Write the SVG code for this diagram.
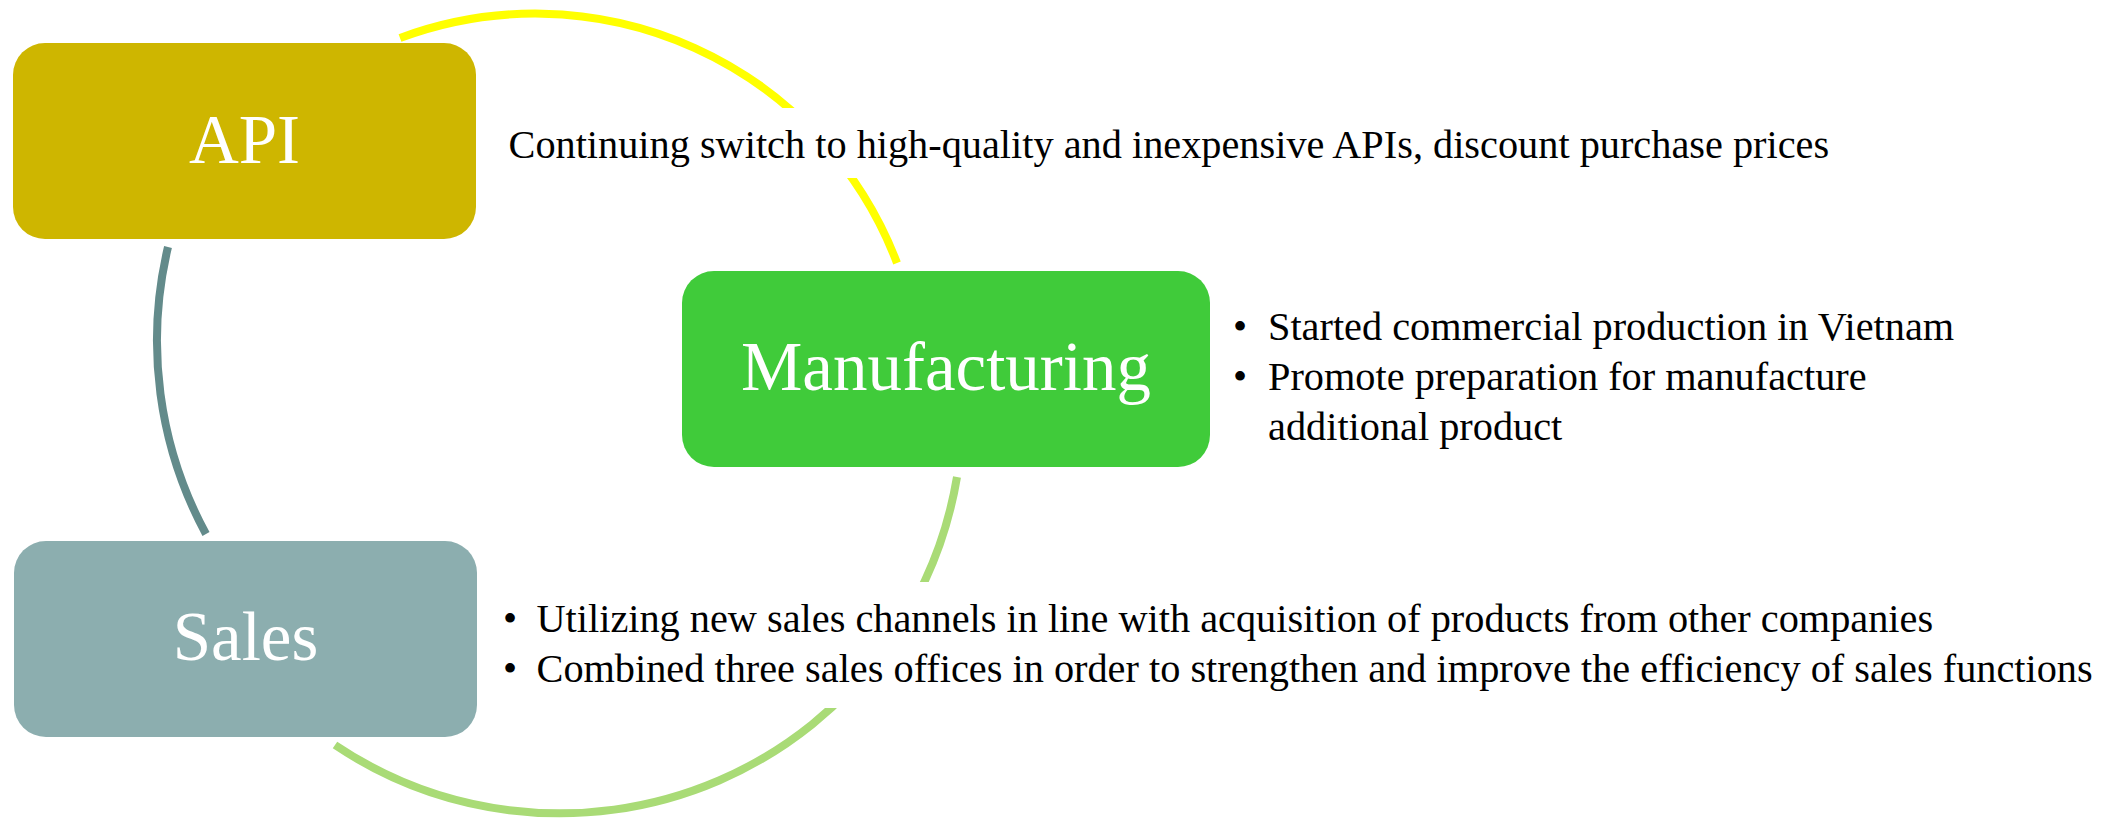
<svg xmlns="http://www.w3.org/2000/svg" width="2116" height="819" viewBox="0 0 2116 819">
  <style>
    .box-label { font-family: "Liberation Serif", "Times New Roman", serif; font-size: 69px; fill: #FFFFFF; text-anchor: middle; }
    .desc { font-family: "Liberation Serif", "Times New Roman", serif; font-size: 40.3px; fill: #000000; }
    .arc { fill: none; stroke-width: 8; stroke-linecap: butt; }
  </style>
  <defs>
    <mask id="textGaps" maskUnits="userSpaceOnUse" x="0" y="0" width="2116" height="819">
      <rect x="0" y="0" width="2116" height="819" fill="#FFFFFF"/>
      <rect x="490" y="108" width="1370" height="70" fill="#000000"/>
      <rect x="490" y="582" width="1620" height="126" fill="#000000"/>
    </mask>
  </defs>
  <rect x="0" y="0" width="2116" height="819" fill="#FFFFFF"/>

  <g id="connectors" mask="url(#textGaps)">
    <path class="arc" stroke="#FFFF00" d="M 400 38 A 387 387 0 0 1 897 263"/>
    <path class="arc" stroke="#A9DB76" d="M 957 477 A 403 403 0 0 1 335 745"/>
    <path class="arc" stroke="#638B8B" d="M 168 247 A 405 405 0 0 0 206 534"/>
  </g>

  <g id="node-api">
    <rect x="13" y="43" width="463" height="196" rx="32" ry="32" fill="#CEB600"/>
    <text class="box-label" x="244.5" y="163">API</text>
  </g>

  <g id="node-manufacturing">
    <rect x="682" y="271" width="528" height="196" rx="32" ry="32" fill="#40CB3A"/>
    <text class="box-label" x="946" y="390">Manufacturing</text>
  </g>

  <g id="node-sales">
    <rect x="14" y="541" width="463" height="196" rx="32" ry="32" fill="#8CAEAF"/>
    <text class="box-label" x="245.5" y="660">Sales</text>
  </g>

  <g id="text-api">
    <text class="desc" x="508.5" y="157.5">Continuing switch to high-quality and inexpensive APIs, discount purchase prices</text>
  </g>

  <g id="text-manufacturing">
    <text class="desc" x="1233" y="339.5">•</text>
    <text class="desc" x="1268" y="339.5">Started commercial production in Vietnam</text>
    <text class="desc" x="1233" y="389.5">•</text>
    <text class="desc" x="1268" y="389.5">Promote preparation for manufacture</text>
    <text class="desc" x="1268" y="439.5">additional product</text>
  </g>

  <g id="text-sales">
    <text class="desc" x="503" y="632">•</text>
    <text class="desc" x="536.5" y="632">Utilizing new sales channels in line with acquisition of products from other companies</text>
    <text class="desc" x="503" y="682">•</text>
    <text class="desc" x="536.5" y="682">Combined three sales offices in order to strengthen and improve the efficiency of sales functions</text>
  </g>
</svg>
